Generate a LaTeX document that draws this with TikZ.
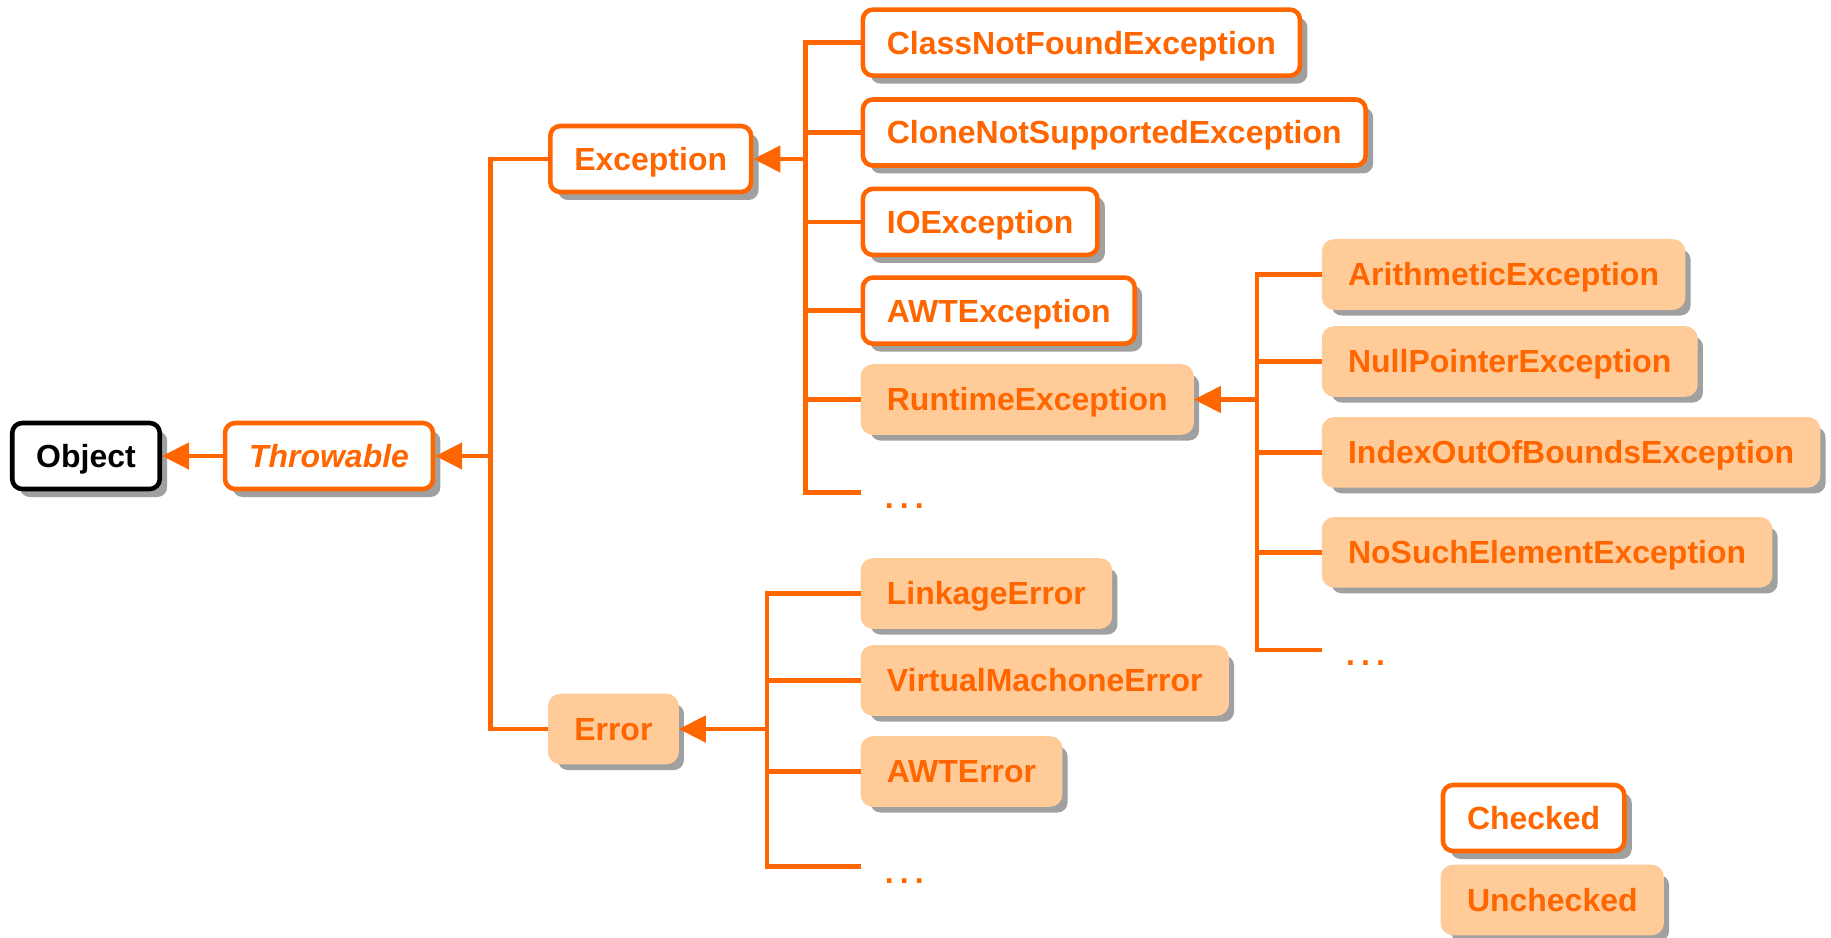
\documentclass[tikz,border=0pt]{standalone}
\usepackage{fontspec}
\setmainfont{Liberation Sans}
\usetikzlibrary{
  arrows.meta,
  shadows,
}
\definecolor{jorange}{HTML}{FF6600}
\definecolor{jpeach}{HTML}{FFCC99}
\definecolor{jshadow}{HTML}{A0A0A0}
\tikzset{
  >={Triangle[length=0.54cm, width=0.52cm]},
}
\newcommand\boxfont{\fontsize{18.2}{21}\selectfont\bfseries}
\newcommand\etcdots{.\kern0.19em.\kern0.19em.}

\begin{document}
\begin{tikzpicture}[x=0.02cm, y=-0.02cm,
    box/.style={rounded corners=0.2cm, line width=2.6pt, inner xsep=0.48cm,
      minimum height=1.32cm, text height=13pt, text depth=0pt, font=\boxfont,
      drop shadow={shadow xshift=0.15cm, shadow yshift=-0.16cm, fill=jshadow, opacity=1}},
    checked/.style={box, draw=jorange, fill=white, text=jorange},
    unchecked/.style={box, draw=jpeach, fill=jpeach, text=jorange},
    root/.style={box, draw=black, fill=white, text=black},
    more/.style={anchor=base west, inner xsep=0.48cm, text=jorange, font=\boxfont},
    link/.style={draw=jorange, line width=2.6pt},
    isa/.style={link, ->}]
  \useasboundingbox (0,0) rectangle (1831,937);

  \node [root] (obj) at (86,456) {Object};
  \node [checked, font=\boxfont\itshape] (thr) at (329,456) {Throwable};
  \node [checked, anchor=west] (exc) at (548,159) {Exception};
  \node [unchecked, anchor=west] (err) at (548,729) {Error};

  % checked exceptions
  \node [checked, anchor=west] (cnf) at (860.6,42.6) {ClassNotFoundException};
  \node [checked, anchor=west] (cns) at (860.6,132.5) {CloneNotSupportedException};
  \node [checked, anchor=west] (ioe) at (860.6,221.9) {IOException};
  \node [checked, anchor=west] (awte) at (860.6,310.6) {AWTException};
  \node [unchecked, anchor=west] (rte) at (860.6,399.5) {RuntimeException};
  \coordinate (eend) at (860.6,492.5);
  \node [more] (edots) at (860.6,508) {\etcdots};

  % runtime exceptions
  \node [unchecked, anchor=west] (ari) at (1321.8,274.5) {ArithmeticException};
  \node [unchecked, anchor=west] (npe) at (1321.8,361.5) {NullPointerException};
  \node [unchecked, anchor=west] (iob) at (1321.8,452.3) {IndexOutOfBoundsException};
  \node [unchecked, anchor=west] (nse) at (1321.8,552.3) {NoSuchElementException};
  \coordinate (rend) at (1321.8,650);
  \node [more] (rdots) at (1321.8,665) {\etcdots};

  % errors
  \node [unchecked, anchor=west] (lnk) at (860.6,593.5) {LinkageError};
  \node [unchecked, anchor=west] (vme) at (860.6,680.5) {VirtualMachoneError};
  \node [unchecked, anchor=west] (awter) at (860.6,771.5) {AWTError};
  \coordinate (xend) at (860.6,866.7);
  \node [more] (xdots) at (860.6,883) {\etcdots};

  % legend
  \node [checked, anchor=west] (chk) at (1440.7,818) {Checked};
  \node [unchecked, anchor=west] (unchk) at (1440.7,900) {Unchecked};

  % connectors
  \coordinate (tjoin) at (490.4,456);
  \coordinate (ejoin) at (805.7,159);
  \coordinate (rjoin) at (1257,399.5);
  \coordinate (xjoin) at (767.2,729);

  \draw [link] (exc.west) -| (tjoin) |- (err.west);
  \draw [isa] (tjoin) -- (thr.east);
  \draw [isa] (thr.west) -- (obj.east);

  \draw [link] (cnf.west) -| (ejoin |- eend) -- (eend);
  \foreach \n in {cns,ioe,awte,rte}
    \draw [link] (\n.west) -- (ejoin |- \n.west);
  \draw [isa] (ejoin) -- (exc.east);

  \draw [link] (ari.west) -| (rjoin |- rend) -- (rend);
  \foreach \n in {npe,iob,nse}
    \draw [link] (\n.west) -- (rjoin |- \n.west);
  \draw [isa] (rjoin) -- (rte.east);

  \draw [link] (lnk.west) -| (xjoin |- xend) -- (xend);
  \foreach \n in {vme,awter}
    \draw [link] (\n.west) -- (xjoin |- \n.west);
  \draw [isa] (xjoin) -- (err.east);
\end{tikzpicture}
\end{document}
